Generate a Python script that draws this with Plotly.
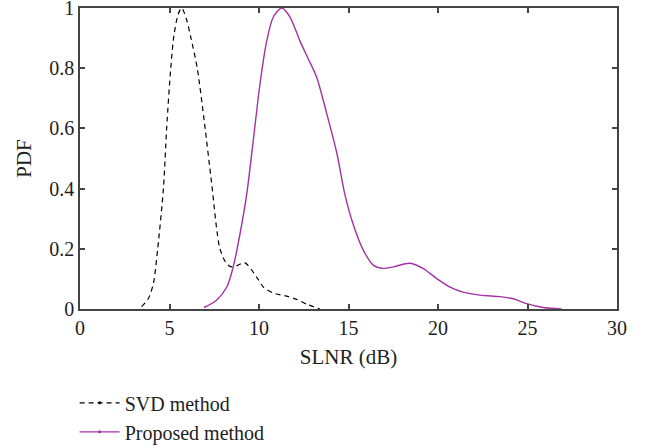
import plotly.graph_objects as go

# SLNR (dB) samples and normalised PDF for each precoding method
svd_x = [3.44, 3.82, 4.1, 4.34, 4.66, 4.84, 5.07, 5.25, 5.49, 5.68, 5.96, 6.2, 6.55,
         6.95, 7.35, 7.82, 8.2, 8.47, 8.8, 9.2, 9.87, 10.24, 10.8, 11.54, 12.1, 12.66, 13.4]
svd_y = [0.008, 0.035, 0.085, 0.2, 0.4, 0.6, 0.8, 0.91, 0.98, 1.0, 0.96, 0.9, 0.8,
         0.62, 0.42, 0.2, 0.15, 0.14, 0.145, 0.154, 0.106, 0.073, 0.053, 0.043, 0.032, 0.016, 0.0]

prop_x = [6.93, 7.64, 8.2, 8.56, 8.94, 9.31, 9.68, 10.06, 10.43, 10.8, 11.27, 11.73, 12.29,
          12.76, 13.22, 13.78, 14.34, 14.8, 15.27, 15.83, 16.4, 16.95, 17.5, 18.44, 19.18,
          19.93, 20.67, 21.41, 22.35, 23.46, 24.2, 24.95, 25.88, 26.9]
prop_y = [0.005, 0.03, 0.073, 0.14, 0.25, 0.38, 0.56, 0.75, 0.89, 0.97, 1.0, 0.97, 0.89,
          0.83, 0.77, 0.65, 0.52, 0.38, 0.28, 0.195, 0.145, 0.135, 0.14, 0.152, 0.134,
          0.101, 0.073, 0.056, 0.046, 0.041, 0.034, 0.018, 0.005, 0.0]

x_ticks = [0, 5, 10, 15, 20, 25, 30]
y_ticks = [0, 0.2, 0.4, 0.6, 0.8, 1]
y_tick_labels = ["0", "0.2", "0.4", "0.6", "0.8", "1"]

PURPLE = "#a232a2"
FONT = "Liberation Serif"
TEXT = "#1e1e1e"

fig = go.Figure()
fig.add_trace(go.Scatter(x=svd_x, y=svd_y, mode="lines", showlegend=False,
                         line=dict(color="black", width=1.2, dash="5px,4px", shape="spline", smoothing=0.8)))
fig.add_trace(go.Scatter(x=prop_x, y=prop_y, mode="lines", showlegend=False,
                         line=dict(color=PURPLE, width=1.4, shape="spline", smoothing=0.8)))
# legend entries (line with a small centre marker)
fig.add_trace(go.Scatter(x=[None], y=[None], mode="lines+markers", name="SVD method",
                         line=dict(color="black", width=1.2, dash="5px,4px"),
                         marker=dict(color="black", size=3)))
fig.add_trace(go.Scatter(x=[None], y=[None], mode="lines+markers", name="Proposed method",
                         line=dict(color=PURPLE, width=1.4),
                         marker=dict(color=PURPLE, size=3)))

axis_common = dict(showline=True, linecolor="#444", linewidth=1.5, mirror="ticks",
                   ticks="inside", ticklen=5, tickcolor="#444", tickwidth=1.5,
                   showgrid=False, zeroline=False, ticklabeloverflow="allow",
                   tickfont=dict(family=FONT, size=20, color=TEXT))

fig.update_xaxes(range=[0, 30], tickvals=x_ticks,
                 title=dict(text="SLNR (dB)", font=dict(family=FONT, size=21, color=TEXT), standoff=12),
                 **axis_common)
fig.update_yaxes(range=[0, 1], tickvals=y_ticks, ticktext=y_tick_labels,
                 title=dict(text="PDF", font=dict(family=FONT, size=21, color=TEXT), standoff=12),
                 **axis_common)

fig.update_layout(
    width=646, height=447,
    margin=dict(l=80, r=29, t=8, b=138, autoexpand=False),
    plot_bgcolor="white", paper_bgcolor="white",
    font=dict(family=FONT, size=20, color=TEXT),
    legend=dict(x=-0.01, y=-0.247, xanchor="left", yanchor="top",
                font=dict(family=FONT, size=20, color=TEXT),
                tracegroupgap=0, itemwidth=40, bgcolor="rgba(0,0,0,0)"),
)

fig.write_html("out.html")
